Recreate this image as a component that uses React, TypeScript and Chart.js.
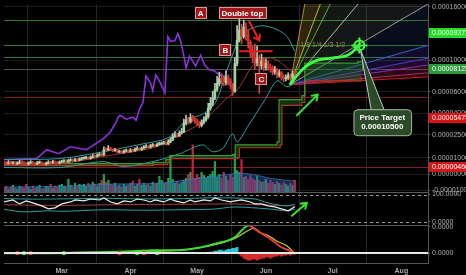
import React, { useEffect, useRef } from 'react';
import { Chart, registerables } from 'chart.js';

Chart.register(...registerables);

const FONT = '"Liberation Sans", Arial, sans-serif';

// ---- x axis: day index counted from 3 Feb ----
const lastDay = 191;
const monthTickDays = [26, 57, 87, 118, 148, 179];
const monthTickLabels = ['Mar', 'Apr', 'May', 'Jun', 'Jul', 'Aug'];

// ---- main price pane (prices in units of 0.00000001) ----
const priceMin = 864;
const priceMax = 28340;
const priceTickLevels = [26830, 10000, 5570, 3727, 2493, 1638, 1200, 896];
const priceTickLabels = ['0.00016000', '0.00010000', '0.00006000', '0.00004000', '0.00002500', '0.00001000', '0.00000000', '-0.00001000'];

const firstOpen = 1500;
const closes = [
  1490, 1470, 1510, 1480, 1500, 1460, 1490, 1520, 1500, 1470, 1450, 1490, 1510, 1480, 1460, 1490, 1500, 1470, 1450, 1480, 1510, 1490, 1520, 1500, 1480, 1510,
  1520, 1540, 1510, 1550, 1570, 1550, 1580, 1560, 1590, 1610,
  1620, 1640, 1610, 1650, 1690, 1670, 1710, 1740, 1720,
  1900, 1880, 1940, 1910, 1870, 1890,
  1820, 1840, 1800, 1850, 1870, 1830, 1890, 1860, 1910, 1940, 1900, 1950,
  1990, 2020, 1980, 2040, 2070, 2030, 2090, 2110,
  2120, 2150, 2100, 2190, 2270,
  2420, 2500, 2440, 2580, 2640,
  3100, 3300, 3180, 3450,
  3380, 3250, 3100, 2980, 3150, 3300, 3500,
  4100, 4500, 4950,
  5800, 6500, 7100,
  7000, 6600, 7300, 6800, 6300, 5600,
  9400, 14500,
  17500, 15500, 18500, 16000, 14000,
  11500, 10500, 9500,
  10300, 9000, 9800, 8700, 9400, 8800,
  8600, 8000, 8400, 7600, 7900, 7300, 7100,
  7200, 7500, 7300, 7800, 7700,
];
const highs = [
  1540, 1520, 1550, 1540, 1530, 1520, 1520, 1560, 1550, 1520, 1500, 1520, 1550, 1530, 1500, 1530, 1540, 1520, 1490, 1510, 1550, 1530, 1560, 1540, 1520, 1540,
  1560, 1580, 1570, 1590, 1610, 1600, 1620, 1610, 1630, 1650,
  1660, 1680, 1670, 1690, 1740, 1720, 1760, 1790, 1780,
  2000, 1960, 2050, 1990, 1930, 1950,
  1910, 1880, 1860, 1890, 1920, 1900, 1940, 1920, 1960, 2010, 1970, 2000,
  2050, 2090, 2050, 2100, 2130, 2110, 2150, 2180,
  2200, 2230, 2200, 2280, 2380,
  2560, 2650, 2580, 2700, 2820,
  3350, 3600, 3450, 3700,
  3600, 3450, 3350, 3200, 3300, 3500, 3750,
  4500, 5000, 5600,
  6500, 7400, 8000,
  7800, 7400, 8200, 7600, 7100, 6500,
  10500, 19000,
  23500, 19500, 21000, 20000, 17500,
  14500, 13000, 13500,
  13000, 11000, 11200, 10500, 10200, 9900,
  9300, 9000, 8900, 8600, 8300, 8100, 7600,
  7600, 7900, 7700, 8200, 8100,
];
const lows = [
  1450, 1440, 1450, 1460, 1460, 1430, 1440, 1470, 1480, 1450, 1420, 1430, 1470, 1460, 1430, 1440, 1470, 1450, 1420, 1430, 1460, 1470, 1470, 1480, 1450, 1460,
  1490, 1500, 1490, 1500, 1530, 1520, 1530, 1540, 1540, 1570,
  1590, 1600, 1590, 1590, 1630, 1640, 1650, 1690, 1690,
  1710, 1840, 1860, 1870, 1830, 1840,
  1790, 1790, 1770, 1780, 1820, 1800, 1810, 1830, 1840, 1880, 1870, 1880,
  1920, 1960, 1950, 1960, 2010, 2000, 2010, 2060,
  2070, 2090, 2060, 2080, 2160,
  2250, 2380, 2380, 2420, 2540,
  2600, 3000, 3050, 3100,
  3200, 3100, 2950, 2850, 2900, 3050, 3200,
  3400, 3950, 4300,
  4800, 5600, 6200,
  6400, 6200, 6300, 6300, 5900, 5200,
  5500, 9000,
  14000, 13500, 15000, 14500, 12500,
  10500, 9500, 8500,
  9000, 5400, 8500, 8200, 8300, 8300,
  8000, 7600, 7700, 7200, 7300, 6900, 6700,
  6800, 7000, 6900, 7100, 7400,
];
const volumes = [
  4, 6, 3, 5, 7, 4, 3, 6, 5, 4, 8, 5, 3, 6, 4, 5, 7, 3, 4, 6, 5, 8, 4, 6, 5, 7,
  8, 6, 5, 13, 7, 5, 9, 6, 8, 7,
  8, 6, 9, 7, 10, 8, 6, 9, 12,
  18, 10, 12, 8, 7, 9,
  6, 7, 5, 8, 6, 7, 9, 11, 6, 8, 13, 7,
  9, 7, 8, 6, 10, 8, 9, 16,
  12, 9, 10, 14, 36,
  13, 9, 11, 8, 10,
  12, 14, 18, 20,
  48, 14, 18, 15, 20, 17, 14,
  16, 18, 21,
  31, 15, 18,
  14, 20, 16, 12, 18, 15,
  39, 22,
  20, 33, 15, 16, 13,
  17, 14, 12,
  16, 12, 10, 11, 13, 9,
  12, 10, 8, 11, 9, 7, 10,
  8, 6, 9, 7, 12,
];
const volMaDays = [0, 26, 45, 70, 84, 95, 105, 112, 120, 131];
const volMaValues = [5, 6, 8, 9, 13, 16, 19, 18, 14, 11];

// overlay (purple) line
const purpleDays = [0, 14.8, 19.2, 24.6, 30, 37.1, 44.7, 47.9, 50.5, 51.4, 52.3, 55, 58, 59.5, 61, 62.6, 64, 66, 67, 68.4, 70, 72.5, 73.8, 75, 77, 78.3, 79.6, 81.4, 82, 83.6, 85, 86.3, 88.6, 90.4, 92.6, 94.8, 97, 99.7];
const purpleValues = [1580, 1610, 1897, 1762, 2003, 1897, 2318, 2635, 3160, 3465, 3594, 3341, 3465, 3280, 4013, 4560, 7460, 6570, 5672, 7600, 6813, 5470, 15500, 14150, 14410, 16380, 14150, 10000, 8640, 10760, 9820, 8960, 10950, 9130, 8330, 8180, 7600, 7330];

// Bollinger bands
const bbUpperDays = [0, 25.5, 44.7, 62.6, 73.8, 82.8, 89.5, 95.3, 99.7, 105.1, 109.6, 116.3, 123, 127.5, 131];
const bbUpperValues = [1580, 1610, 1828, 2115, 2363, 3341, 3665, 4560, 7600, 13640, 17290, 18950, 17620, 15500, 11790];
const bbLowerDays = [0, 25.5, 44.7, 53.7, 67.1, 79.2, 89.5, 93.9, 98.4, 102.9, 105.1, 110.5, 117.6, 123, 127.5, 131];
const bbLowerValues = [1364, 1364, 1523, 1389, 1523, 1762, 2077, 1828, 1930, 2543, 2195, 3050, 4813, 6813, 6108, 6570];
const bbMidDays = [0, 25.5, 49.2, 67.1, 76, 85, 93.9, 99.7, 105.1, 113.2, 120.8, 126.6, 131];
const bbMidValues = [1440, 1468, 1730, 1967, 2404, 2834, 3797, 4813, 5776, 9470, 10370, 8960, 7600];

// cloud step lines
const cloudTopDays = [0, 67.1, 72.9, 74.7, 102.9, 104.2, 123, 123.9, 134.2, 135.5, 159.2, 161.5];
const cloudTopValues = [1468, 1496, 1580, 1700, 1730, 2077, 2195, 4813, 5183, 9470, 9700, 8330];
const cloudBaseDays = [0, 67.1, 73.8, 74.7, 105.1, 106, 124.4, 125.2, 134.2, 135.5, 161];
const cloudBaseValues = [1414, 1440, 1500, 1610, 1638, 1967, 2077, 4313, 4560, 6813, 7330];

// projected path to target
const pathDays = [128.8, 134.2, 140, 147.6, 154.8, 160.1];
const pathValues = [6335, 8330, 9820, 10370, 10950, 13150];

// horizontal levels
const levelValues = [21150, 13150, 10560, 8483, 5085, 1389];
const levelColors = ['#2f7a2f', '#2f7a2f', '#2f7a2f', '#505050', '#7c1c1c', '#7c1c1c'];
const necklineDays = [106, 121];
const necklineValue = 11790;

// fan
const fanOrigin = [128.8, 6335];
const fanEndDays = [135.5, 142.5, 147, 159.5, 191, 191, 191, 191, 191, 191];
const fanEndValues = [28340, 28340, 28340, 28340, 28340, 13150, 10370, 9130, 7890, 7330];
const fanLineColors = ['#b8862e', '#c8b43c', '#5fa23a', '#9fc49a', '#9a9a9a', '#3a62c8', '#5a3ac8', '#8a2ab0', '#ae2c66', '#c02020'];
const fanFillColors = ['rgba(200,165,60,0.22)', 'rgba(130,175,60,0.18)', 'rgba(140,175,130,0.13)', 'rgba(140,150,160,0.15)', 'rgba(50,80,170,0.16)', 'rgba(80,50,190,0.22)', 'rgba(130,40,170,0.26)', 'rgba(170,40,100,0.26)', 'rgba(190,30,30,0.26)'];
const fanLabel = '1/8 1/4 1/3 1/2';
const fanLabelAt = [133.5, 13150];

// annotations
const noteTexts = ['A', 'Double top', 'B', 'C'];
const noteDays = [88.6, 107.4, 99.7, 115.9];
const noteValues = [24040, 24040, 12000, 7066];
const targetAt = [160.1, 13150];
const targetBoxAt = [170.4, 3160];
const targetTexts = ['Price Target', '0.00010500'];

// axis badges
const badgeTexts = ['0.00009371', '0.00008123', '0.00005479', '0.00000466'];
const badgeValues = [16680, 8483, 3403, 1389];
const badgeColors = ['#22dd22', '#2a9a3a', '#e01010', '#d01818'];

// ---- RSI pane ----
const rsiTickValues = [100, 0];
const rsiTickLabels = ['100.0000', '0.0000'];
const rsiDays = [0, 4, 7, 10, 13, 17, 20, 23, 26, 30, 32, 36, 39, 43, 45, 48, 51, 54, 57, 60, 63, 66, 68, 72, 75, 77, 81, 84, 86, 90, 93, 95, 98, 102, 104, 107, 111, 113, 116, 119, 122, 125, 128, 131];
const rsiValues = [72.6, 79.9, 65.4, 76.3, 69, 58.1, 47.2, 50.8, 65.4, 72.6, 79.9, 76.3, 83.5, 79.9, 87.2, 72.6, 65.4, 76.3, 72.6, 83.5, 79.9, 72.6, 79.9, 72.6, 83.5, 76.3, 69, 79.9, 72.6, 79.9, 76.3, 87.2, 79.9, 72.6, 76.3, 79.9, 72.6, 65.4, 65.4, 58.1, 54.5, 47.2, 39.9, 54.5];
const rsiUpperDays = [0, 13, 27, 45, 63, 81, 94, 104, 113, 119, 127, 131];
const rsiUpperValues = [85, 83, 84, 86, 84, 85, 88, 87, 83.5, 69, 58, 65];
const rsiLowerDays = [0, 9, 20, 27, 45, 63, 81, 94, 104, 119, 128, 131];
const rsiLowerValues = [45, 36, 40, 38, 44, 42, 44, 46, 54, 47, 40, 47];
const rsiMidDays = [0, 27, 54, 81, 104, 119, 131];
const rsiMidValues = [62, 60, 63, 64, 65, 61, 58];
const rsiArrow = [[129.7, 21.7], [136.4, 69]];

// ---- MACD pane ----
const macdTickValues = [27, 0];
const macdTickLabels = ['0.0000', '0.0000'];
const macdDays = [0, 22, 45, 58, 67, 79, 89, 96, 101, 104, 107, 110, 113, 116, 119, 122, 125, 128, 131];
const macdValues = [0, 0, 1, 2, 3, 3, 6, 10, 13, 16, 23, 28, 25, 20, 16, 11, 6, 3, 0];
const signalDays = [0, 45, 67, 80, 94, 104, 112, 115, 119, 123, 127, 131];
const signalValues = [0, 1, 2, 3, 8, 15, 25, 21, 18, 12, 8, 0];
const histDays = [93, 94, 95, 96, 97, 98, 99, 100, 101, 102, 103, 104, 105, 106, 107, 108, 109, 110, 111, 112, 113, 114, 115, 116, 117, 118, 119, 120, 121, 122, 123, 124, 125, 126, 127, 128, 129, 130, 131];
const histValues = [1, 1, 2, 2, 3, 3, 2, 3, 4, 4, 5, 5, 6, -1, -3, -5, -6, -7, -7, -6, -6, -7, -6, -5, -5, -4, -4, -5, -4, -3, -3, -2, -3, -2, -2, -1, -2, -1, -1];
const crossDays = [6, 9, 12, 27, 52, 60, 63, 69];
const crossColors = ['#e53935', '#3ddc3d', '#e53935', '#3ddc3d', '#e53935', '#3ddc3d', '#e53935', '#3ddc3d'];

// arrows on the price pane
const greenArrow = [[132, 3594], [141.3, 5272]];
const redArrow = [[110.5, 20390], [115, 14410]];

const pts = (xs: number[], ys: number[]) => xs.map((x, i) => ({ x, y: ys[i] }));

function arrow(ctx: any, x0: number, y0: number, x1: number, y1: number, color: string) {
  ctx.save();
  ctx.strokeStyle = color;
  ctx.lineWidth = 2;
  ctx.lineCap = 'round';
  ctx.beginPath();
  ctx.moveTo(x0, y0);
  ctx.lineTo(x1, y1);
  const a = Math.atan2(y1 - y0, x1 - x0);
  const h = 6;
  ctx.moveTo(x1 - h * Math.cos(a - 0.6), y1 - h * Math.sin(a - 0.6));
  ctx.lineTo(x1, y1);
  ctx.lineTo(x1 - h * Math.cos(a + 0.6), y1 - h * Math.sin(a + 0.6));
  ctx.stroke();
  ctx.restore();
}

function noteBox(ctx: any, text: string, cx: number, cy: number) {
  ctx.save();
  ctx.font = 'bold 8px ' + FONT;
  const w = ctx.measureText(text).width + 6;
  const h = 12;
  ctx.fillStyle = '#a01818';
  ctx.strokeStyle = '#d89a9a';
  ctx.lineWidth = 1;
  ctx.fillRect(Math.round(cx - w / 2), Math.round(cy - h / 2), Math.round(w), h);
  ctx.strokeRect(Math.round(cx - w / 2) + 0.5, Math.round(cy - h / 2) + 0.5, Math.round(w) - 1, h - 1);
  ctx.fillStyle = '#ffffff';
  ctx.textAlign = 'center';
  ctx.textBaseline = 'middle';
  ctx.fillText(text, cx, cy + 0.5);
  ctx.restore();
}

const overlayPlugin = {
  id: 'tvOverlay',
  beforeDraw(chart: any) {
    const { ctx, width, height } = chart;
    ctx.save();
    ctx.fillStyle = '#000000';
    ctx.fillRect(0, 0, width, height);
    ctx.restore();
  },
  beforeDatasetsDraw(chart: any) {
    const { ctx, chartArea: ca, scales } = chart;
    const xs = scales.x;
    const ys = scales.y;
    const X = (d: number) => xs.getPixelForValue(d);
    const Y = (v: number) => ys.getPixelForValue(v);
    ctx.save();
    ctx.beginPath();
    ctx.rect(ca.left, ys.top, ca.right - ca.left, ys.bottom - ys.top);
    ctx.clip();
    levelValues.forEach((v, i) => {
      const y = Math.round(Y(v)) + 0.5;
      ctx.strokeStyle = levelColors[i];
      ctx.lineWidth = 1;
      ctx.beginPath();
      ctx.moveTo(ca.left, y);
      ctx.lineTo(ca.right, y);
      ctx.stroke();
    });
    const ox = X(fanOrigin[0]);
    const oy = Y(fanOrigin[1]);
    const ends = fanEndDays.map((d, i) => [X(d), Y(fanEndValues[i])]);
    for (let i = 0; i < ends.length - 1; i++) {
      ctx.fillStyle = fanFillColors[i];
      ctx.beginPath();
      ctx.moveTo(ox, oy);
      ctx.lineTo(ends[i][0], ends[i][1]);
      ctx.lineTo(ends[i + 1][0], ends[i + 1][1]);
      ctx.closePath();
      ctx.fill();
    }
    ends.forEach((e, i) => {
      ctx.strokeStyle = fanLineColors[i];
      ctx.lineWidth = 1;
      ctx.beginPath();
      ctx.moveTo(ox, oy);
      ctx.lineTo(e[0], e[1]);
      ctx.stroke();
    });
    ctx.font = '7px ' + FONT;
    ctx.fillStyle = '#8c9a34';
    ctx.textBaseline = 'middle';
    ctx.fillText(fanLabel, X(fanLabelAt[0]), Y(fanLabelAt[1]));
    ctx.restore();
  },
  afterDatasetsDraw(chart: any) {
    const { ctx, chartArea: ca, scales } = chart;
    const xs = scales.x;
    const ys = scales.y;
    const X = (d: number) => xs.getPixelForValue(d);
    const Y = (v: number) => ys.getPixelForValue(v);
    ctx.save();
    // neckline
    ctx.strokeStyle = '#e02020';
    ctx.lineWidth = 2;
    ctx.beginPath();
    ctx.moveTo(X(necklineDays[0]), Y(necklineValue));
    ctx.lineTo(X(necklineDays[1]), Y(necklineValue));
    ctx.stroke();
    // arrows
    arrow(ctx, X(redArrow[0][0]), Y(redArrow[0][1]), X(redArrow[1][0]), Y(redArrow[1][1]), '#e82020');
    arrow(ctx, X(greenArrow[0][0]), Y(greenArrow[0][1]), X(greenArrow[1][0]), Y(greenArrow[1][1]), '#2fe82f');
    const yr = scales.yRsi;
    arrow(ctx, X(rsiArrow[0][0]), yr.getPixelForValue(rsiArrow[0][1]), X(rsiArrow[1][0]), yr.getPixelForValue(rsiArrow[1][1]), '#2fe82f');
    // notes
    noteTexts.forEach((t, i) => noteBox(ctx, t, X(noteDays[i]), Y(noteValues[i])));
    // target pointer + box
    const tx = X(targetAt[0]);
    const ty = Y(targetAt[1]);
    const bx = X(targetBoxAt[0]);
    const by = Y(targetBoxAt[1]);
    ctx.font = 'bold 8px ' + FONT;
    const bw = Math.max(...targetTexts.map((t) => ctx.measureText(t).width)) + 12;
    const bh = 26;
    const left = bx - bw / 2;
    const top = by - bh / 2;
    ctx.fillStyle = '#2b4a28';
    ctx.strokeStyle = '#c0ccc0';
    ctx.lineWidth = 1;
    ctx.beginPath();
    ctx.moveTo(bx - 11, top + 1);
    ctx.lineTo(tx + 1, ty + 4);
    ctx.lineTo(bx + 2, top + 1);
    ctx.closePath();
    ctx.fill();
    ctx.stroke();
    ctx.strokeStyle = '#a8b8a0';
    ctx.beginPath();
    if (ctx.roundRect) ctx.roundRect(left + 0.5, top + 0.5, bw, bh, 4);
    else ctx.rect(left + 0.5, top + 0.5, bw, bh);
    ctx.fill();
    ctx.stroke();
    ctx.fillStyle = '#ffffff';
    ctx.textAlign = 'center';
    ctx.textBaseline = 'middle';
    ctx.fillText(targetTexts[0], bx, by - 4.5);
    ctx.fillText(targetTexts[1], bx, by + 5);
    // target marker
    ctx.strokeStyle = '#3dff3d';
    ctx.lineWidth = 2;
    ctx.beginPath();
    ctx.arc(tx, ty, 5, 0, Math.PI * 2);
    ctx.stroke();
    ctx.beginPath();
    ctx.moveTo(tx - 8, ty);
    ctx.lineTo(tx + 8, ty);
    ctx.moveTo(tx, ty - 8);
    ctx.lineTo(tx, ty + 8);
    ctx.stroke();
    // pane separators
    ctx.lineWidth = 1;
    ctx.strokeStyle = '#5a5a5a';
    [scales.yRsi.top, scales.yMacd.top].forEach((y: number) => {
      const yy = Math.round(y) + 0.5;
      ctx.beginPath();
      ctx.moveTo(ca.left, yy);
      ctx.lineTo(ca.right, yy);
      ctx.stroke();
    });
    // RSI band lines
    ctx.setLineDash([3, 3]);
    ctx.strokeStyle = '#9a9a9a';
    rsiTickValues.forEach((v) => {
      const yy = Math.round(yr.getPixelForValue(v)) + 0.5;
      ctx.beginPath();
      ctx.moveTo(ca.left, yy);
      ctx.lineTo(ca.right, yy);
      ctx.stroke();
    });
    ctx.setLineDash([]);
    // MACD zero line
    const ym = scales.yMacd;
    ctx.strokeStyle = '#e6e6e6';
    ctx.lineWidth = 2;
    const zy = Math.round(ym.getPixelForValue(0));
    ctx.beginPath();
    ctx.moveTo(ca.left, zy);
    ctx.lineTo(ca.right, zy);
    ctx.stroke();
    ctx.restore();
  },
  afterDraw(chart: any) {
    const { ctx, chartArea: ca, scales, width } = chart;
    const ys = scales.y;
    ctx.save();
    ctx.font = '7px ' + FONT;
    ctx.textBaseline = 'middle';
    badgeTexts.forEach((t, i) => {
      const y = Math.round(ys.getPixelForValue(badgeValues[i]));
      ctx.fillStyle = badgeColors[i];
      ctx.fillRect(ca.right + 1, y - 5, width - ca.right - 1, 10);
      ctx.fillStyle = '#ffffff';
      ctx.fillText(t, ca.right + 4, y + 0.5);
    });
    ctx.restore();
  },
};

export default function App() {
  const ref = useRef<HTMLCanvasElement | null>(null);
  useEffect(() => {
    document.body.style.margin = '0';
    document.body.style.background = '#000';
    const canvas = ref.current;
    if (!canvas) return;
    const opens = closes.map((c, i) => (i === 0 ? firstOpen : closes[i - 1]));
    const up = closes.map((c, i) => c >= opens[i]);
    const tickFont = { family: FONT, size: 7 };
    const yFit = (s: any) => {
      s.width = 38;
      s.paddingTop = 0;
      s.paddingBottom = 0;
    };
    const chart = new Chart(canvas, {
      type: 'bar',
      data: {
        datasets: [
          { type: 'line', yAxisID: 'y', data: pts(pathDays, pathValues), borderColor: '#3dff3d', borderWidth: 2.8, pointRadius: 0, tension: 0.4, order: 1 } as any,
          { type: 'bar', yAxisID: 'y', data: closes.map((c, i) => ({ x: i, y: [opens[i], c] })), backgroundColor: up.map((u) => (u ? '#a2d4a0' : '#e22a2a')), barThickness: 2, minBarLength: 1, grouped: false, order: 2 } as any,
          { type: 'bar', yAxisID: 'y', data: closes.map((c, i) => ({ x: i, y: [lows[i], highs[i]] })), backgroundColor: up.map((u) => (u ? '#b8c8b8' : '#d04040')), barThickness: 1, grouped: false, order: 3 } as any,
          { type: 'line', yAxisID: 'y', data: pts(bbUpperDays, bbUpperValues), borderColor: '#2a9fa2', borderWidth: 1, pointRadius: 0, tension: 0.3, order: 4 } as any,
          { type: 'line', yAxisID: 'y', data: pts(bbLowerDays, bbLowerValues), borderColor: '#2a9fa2', borderWidth: 1, pointRadius: 0, tension: 0.3, order: 4 } as any,
          { type: 'line', yAxisID: 'y', data: pts(bbMidDays, bbMidValues), borderColor: '#a83030', borderWidth: 1, pointRadius: 0, tension: 0.3, order: 5 } as any,
          { type: 'line', yAxisID: 'y', data: pts(purpleDays, purpleValues), borderColor: '#8e30dc', borderWidth: 1.6, pointRadius: 0, order: 6 } as any,
          { type: 'line', yAxisID: 'y', data: pts(cloudTopDays, cloudTopValues), borderColor: '#3c9a2c', borderWidth: 1.2, pointRadius: 0, stepped: 'before', fill: '+1', backgroundColor: 'rgba(40,120,40,0.4)', order: 7 } as any,
          { type: 'line', yAxisID: 'y', data: pts(cloudBaseDays, cloudBaseValues), borderColor: '#d02a1a', borderWidth: 1.2, pointRadius: 0, stepped: 'before', order: 7 } as any,
          { type: 'line', yAxisID: 'yVol', data: pts(volMaDays, volMaValues), borderColor: 'rgba(60,120,190,0.7)', borderWidth: 1, pointRadius: 0, fill: 'origin', backgroundColor: 'rgba(35,95,170,0.45)', tension: 0.3, order: 8 } as any,
          { type: 'bar', yAxisID: 'yVol', data: volumes.map((v, i) => ({ x: i, y: v })), backgroundColor: up.map((u) => (u ? '#22a050' : '#cc2040')), barThickness: 1.6, grouped: false, order: 9 } as any,
          { type: 'line', yAxisID: 'yRsi', data: pts(rsiUpperDays, rsiUpperValues), borderColor: '#2a9fa2', borderWidth: 1, pointRadius: 0, tension: 0.3, order: 3 } as any,
          { type: 'line', yAxisID: 'yRsi', data: pts(rsiLowerDays, rsiLowerValues), borderColor: '#2a9fa2', borderWidth: 1, pointRadius: 0, tension: 0.3, order: 3 } as any,
          { type: 'line', yAxisID: 'yRsi', data: pts(rsiMidDays, rsiMidValues), borderColor: '#a04040', borderWidth: 1, pointRadius: 0, tension: 0.3, order: 3 } as any,
          { type: 'line', yAxisID: 'yRsi', data: pts(rsiDays, rsiValues), borderColor: '#ececec', borderWidth: 1.2, pointRadius: 0, order: 2 } as any,
          { type: 'bar', yAxisID: 'yMacd', data: pts(histDays, histValues), backgroundColor: histValues.map((v) => (v >= 0 ? '#26c6da' : '#d32f2f')), barThickness: 2, grouped: false, order: 4 } as any,
          { type: 'line', yAxisID: 'yMacd', data: pts(signalDays, signalValues), borderColor: '#c8c832', borderWidth: 1.2, pointRadius: 0, tension: 0.3, order: 3 } as any,
          {
            type: 'line', yAxisID: 'yMacd', data: pts(macdDays, macdValues), borderWidth: 2, pointRadius: 0, tension: 0.3, order: 2,
            borderColor: '#3ddc3d',
            segment: { borderColor: (c: any) => (c.p1.parsed.y < c.p0.parsed.y ? '#e53935' : '#3ddc3d') },
          } as any,
          { type: 'line', yAxisID: 'yMacd', data: crossDays.map((d) => ({ x: d, y: 0 })), showLine: false, pointRadius: 2.2, pointBackgroundColor: crossColors, pointBorderWidth: 0, order: 1 } as any,
        ],
      },
      options: {
        responsive: false,
        devicePixelRatio: 1,
        animation: false,
        events: [],
        layout: { padding: 0 },
        plugins: { legend: { display: false }, tooltip: { enabled: false } },
        scales: {
          x: {
            type: 'linear',
            min: 0,
            max: lastDay,
            offset: false,
            afterBuildTicks: (s: any) => { s.ticks = monthTickDays.map((v) => ({ value: v })); },
            afterFit: (s: any) => { s.height = 12; s.paddingLeft = 0; s.paddingRight = 0; },
            ticks: { autoSkip: false, maxRotation: 0, padding: 4, color: '#a8a8a8', font: { family: FONT, size: 7, weight: 'bold' }, callback: (v: any, i: number) => monthTickLabels[i] },
            grid: { color: '#262626', drawTicks: false },
            border: { color: '#555555' },
          },
          y: {
            type: 'logarithmic',
            position: 'right',
            stack: 'panes',
            stackWeight: 191,
            min: priceMin,
            max: priceMax,
            afterBuildTicks: (s: any) => { s.ticks = priceTickLevels.map((v) => ({ value: v })); },
            afterFit: yFit,
            ticks: { autoSkip: false, padding: 2, color: '#b0b0b0', font: tickFont, callback: (v: any, i: number) => priceTickLabels[i] },
            grid: { color: '#1d1d1d', tickLength: 2, tickColor: '#777' },
            border: { color: '#555555' },
          },
          yRsi: {
            type: 'linear',
            position: 'right',
            stack: 'panes',
            stackWeight: 33,
            min: -11,
            max: 109,
            afterBuildTicks: (s: any) => { s.ticks = rsiTickValues.map((v) => ({ value: v })); },
            afterFit: yFit,
            ticks: { autoSkip: false, padding: 2, color: '#b0b0b0', font: tickFont, callback: (v: any, i: number) => rsiTickLabels[i] },
            grid: { drawOnChartArea: false, tickLength: 2, tickColor: '#777' },
            border: { color: '#555555' },
          },
          yMacd: {
            type: 'linear',
            position: 'right',
            stack: 'panes',
            stackWeight: 39,
            min: -10,
            max: 29,
            afterBuildTicks: (s: any) => { s.ticks = macdTickValues.map((v) => ({ value: v })); },
            afterFit: yFit,
            ticks: { autoSkip: false, padding: 2, color: '#b0b0b0', font: tickFont, callback: (v: any, i: number) => macdTickLabels[i] },
            grid: { drawOnChartArea: false, tickLength: 2, tickColor: '#777' },
            border: { color: '#555555' },
          },
          yVol: {
            type: 'linear',
            position: 'left',
            display: false,
            min: -72,
            max: 191,
            afterFit: (s: any) => { s.width = 0; s.paddingTop = 0; s.paddingBottom = 0; },
          },
        },
      } as any,
      plugins: [overlayPlugin],
    });
    return () => chart.destroy();
  }, []);
  return (
    <div style={{ position: 'fixed', left: 0, top: 0, width: 466, height: 275, background: '#000' }}>
      <canvas ref={ref} width={466} height={275} style={{ display: 'block', width: 466, height: 275 }} />
    </div>
  );
}
